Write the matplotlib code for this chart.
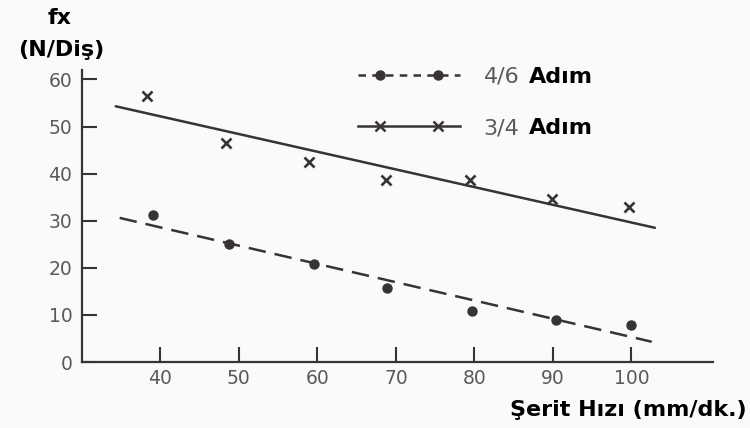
import matplotlib.pyplot as plt
from matplotlib.lines import Line2D
from matplotlib.legend_handler import HandlerLine2D, HandlerTuple

# ölçüm verileri
serit_hizi_46 = [39, 48.7, 59.6, 68.9, 79.7, 90.4, 100]
fx_46 = [31.3, 25.1, 20.9, 15.7, 10.9, 8.9, 7.9]
serit_hizi_34 = [38.3, 48.3, 58.9, 68.7, 79.4, 89.9, 99.7]
fx_34 = [56.4, 46.6, 42.5, 38.7, 38.7, 34.7, 33.0]

# eğilim doğruları (uç noktalar)
egilim_x_46 = [34.8, 102.6]
egilim_y_46 = [30.6, 4.3]
egilim_x_34 = [34.3, 103.0]
egilim_y_34 = [54.3, 28.5]

x_ticks = [40, 50, 60, 70, 80, 90, 100]
y_ticks = [0, 10, 20, 30, 40, 50, 60]

ink = '#383334'
gri = '#5a5a5a'

fig = plt.figure(figsize=(7.5, 4.28), dpi=100, facecolor='#fafafa')
ax = fig.add_axes([0.1093, 0.1542, 0.8413, 0.6822])
ax.set_facecolor('none')

ax.plot(egilim_x_34, egilim_y_34, color=ink, lw=1.8, solid_capstyle='round')
ax.plot(egilim_x_46, egilim_y_46, color=ink, lw=1.8, dashes=(7, 3.6))
ax.plot(serit_hizi_34, fx_34, ls='none', marker='x', ms=7.5, mew=1.9, color=ink)
ax.plot(serit_hizi_46, fx_46, ls='none', marker='o', ms=6.5, color=ink)

ax.set_xlim(30, 110.4)
ax.set_ylim(0, 62)
ax.set_xticks(x_ticks)
ax.set_yticks(y_ticks)

for s in ['top', 'right']:
    ax.spines[s].set_visible(False)
for s in ['left', 'bottom']:
    ax.spines[s].set_color(ink)
    ax.spines[s].set_linewidth(1.6)

ax.tick_params(axis='both', direction='in', length=10.5, width=1.5,
               color=ink, labelcolor=gri, labelsize=13.5)
ax.tick_params(axis='y', pad=7)
ax.tick_params(axis='x', pad=5)

# lejant: kesikli çizgi + iki işaret
cizgi_46 = Line2D([], [], color=ink, lw=1.8, dashes=(3, 2.5))
nokta_46 = Line2D([], [], ls='none', marker='o', ms=6.5, color=ink)
cizgi_34 = Line2D([], [], color=ink, lw=1.8)
nokta_34 = Line2D([], [], ls='none', marker='x', ms=7, mew=1.8, color=ink)

hmap = {
    tuple: HandlerTuple(ndivide=1),
    cizgi_46: HandlerLine2D(marker_pad=0),
    cizgi_34: HandlerLine2D(marker_pad=0),
    nokta_46: HandlerLine2D(marker_pad=1.0),
    nokta_34: HandlerLine2D(marker_pad=1.0),
}
leg = ax.legend([(cizgi_46, nokta_46), (cizgi_34, nokta_34)], ['4/6', '3/4'],
                handler_map=hmap, numpoints=2, frameon=False,
                loc='upper left', bbox_to_anchor=(358 / 750, 1 - 67 / 428),
                bbox_transform=fig.transFigure, borderpad=0, borderaxespad=0,
                fontsize=16, handlelength=4.6, handletextpad=1.05,
                labelspacing=1.4)

bold = dict(fontsize=16, fontweight='bold', color='black',
            family='DejaVu Sans')

# "Adım" yazıları lejanttan sonra çizilsin diye zorder yüksek
for t in leg.get_texts():
    t.set_color(gri)
    ax.annotate('Adım', xy=(1, 0.5), xycoords=t, xytext=(7, 0),
                textcoords='offset points', va='center', ha='left',
                zorder=10, **bold)

fig.text(60 / 750, 1 - 18 / 428, 'fx', ha='center', va='center', **bold)
fig.text(61 / 750, 1 - 50 / 428, '(N/Diş)', ha='center', va='center', **bold)
fig.text(747 / 750, 1 - 410 / 428, 'Şerit Hızı (mm/dk.)', ha='right',
         va='center', **bold)

plt.savefig('out.png', dpi=100, facecolor=fig.get_facecolor())
